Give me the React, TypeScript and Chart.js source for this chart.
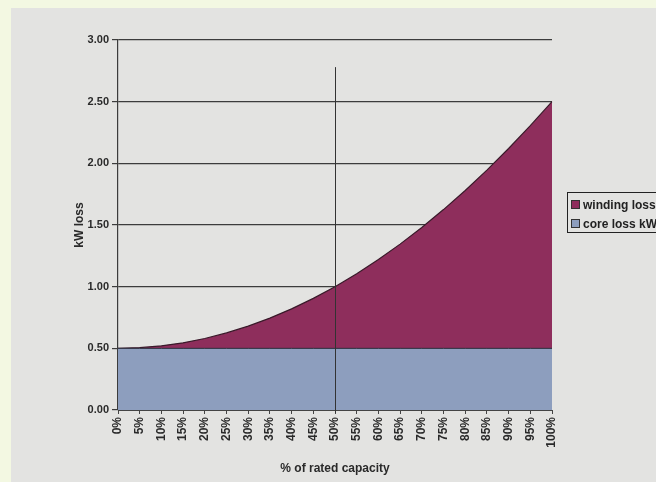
import React, { useEffect, useRef } from "react";
import { Chart, registerables } from "chart.js";

Chart.register(...registerables);

const categories = ["0%", "5%", "10%", "15%", "20%", "25%", "30%", "35%", "40%", "45%", "50%", "55%", "60%", "65%", "70%", "75%", "80%", "85%", "90%", "95%", "100%"];
const coreLoss = [0.5, 0.5, 0.5, 0.5, 0.5, 0.5, 0.5, 0.5, 0.5, 0.5, 0.5, 0.5, 0.5, 0.5, 0.5, 0.5, 0.5, 0.5, 0.5, 0.5, 0.5];
const windingLoss = [0, 0.005, 0.02, 0.045, 0.08, 0.125, 0.18, 0.245, 0.32, 0.405, 0.5, 0.605, 0.72, 0.845, 0.98, 1.125, 1.28, 1.445, 1.62, 1.805, 2.0];
const yTicks = [0, 0.5, 1, 1.5, 2, 2.5, 3];
const markerIndex = 10;
const markerTop = 2.78;

const WINDING_COLOR = "#8e2e5c";
const CORE_COLOR = "#8d9ebe";
const FONT = "'Liberation Sans', Arial, sans-serif";

const markerLine = {
  id: "markerLine",
  afterDatasetsDraw(chart: any) {
    const { ctx, scales } = chart;
    const x = scales.x.getPixelForValue(markerIndex);
    const y0 = scales.y.getPixelForValue(markerTop);
    const y1 = scales.y.getPixelForValue(0);
    ctx.save();
    ctx.strokeStyle = "#333";
    ctx.lineWidth = 1;
    ctx.beginPath();
    ctx.moveTo(Math.round(x) + 0.5, y0);
    ctx.lineTo(Math.round(x) + 0.5, y1 + 3);
    ctx.stroke();
    ctx.restore();
  },
};

export default function App() {
  const ref = useRef<HTMLCanvasElement | null>(null);
  useEffect(() => {
    if (!ref.current) return;
    const chart = new Chart(ref.current, {
      type: "line",
      data: {
        labels: categories,
        datasets: [
          {
            label: "core loss kW",
            data: coreLoss,
            backgroundColor: CORE_COLOR,
            borderColor: "#2c2c3c",
            borderWidth: 1,
            pointRadius: 0,
            fill: "origin",
            tension: 0,
          },
          {
            label: "winding loss",
            data: windingLoss,
            backgroundColor: WINDING_COLOR,
            borderColor: "#3a1a2a",
            borderWidth: 1.2,
            pointRadius: 0,
            fill: "-1",
            tension: 0,
          },
        ],
      },
      options: {
        responsive: false,
        animation: false,
        layout: { padding: { left: 68, right: 104, top: 40, bottom: 6 } },
        plugins: { legend: { display: false }, tooltip: { enabled: false } },
        scales: {
          x: {
            offset: false,
            afterFit: (s: any) => { s.height = 66; },
            grid: { display: true, drawOnChartArea: false, drawTicks: true, tickLength: 4, color: "#444" },
            border: { display: true, color: "#444", width: 1 },
            ticks: {
              minRotation: 90,
              maxRotation: 90,
              autoSkip: false,
              padding: 3,
              color: "#2a2a2a",
              font: { family: FONT, size: 12, weight: "bold" },
            },
            title: {
              display: true,
              text: "% of rated capacity",
              color: "#2a2a2a",
              font: { family: FONT, size: 12, weight: "bold" },
              padding: { top: 2, bottom: 0 },
            },
          },
          y: {
            stacked: true,
            min: 0,
            max: 3,
            afterFit: (s: any) => { s.width = 50; },
            afterBuildTicks: (s: any) => { s.ticks = yTicks.map((v) => ({ value: v })); },
            grid: { color: "#3c3c3c", lineWidth: 1.2, drawTicks: true, tickLength: 6 },
            border: { display: true, color: "#3c3c3c", width: 1.2 },
            ticks: {
              padding: 3,
              color: "#2a2a2a",
              font: { family: FONT, size: 11, weight: "bold" },
              callback: (v: any) => Number(v).toFixed(2),
            },
            title: {
              display: true,
              text: "kW loss",
              color: "#2a2a2a",
              font: { family: FONT, size: 12, weight: "bold" },
              padding: { top: 4, bottom: 2 },
            },
          },
        },
      },
      plugins: [markerLine],
    } as any);
    return () => chart.destroy();
  }, []);

  const legendItem = (color: string, text: string) => (
    <div style={{ display: "flex", alignItems: "center", height: 19, whiteSpace: "nowrap" }}>
      <span style={{ display: "inline-block", width: 7, height: 7, background: color, border: "1px solid #333", marginRight: 3 }} />
      <span style={{ font: `bold 12px ${FONT}`, color: "#222" }}>{text}</span>
    </div>
  );

  return (
    <div style={{ position: "fixed", left: 0, top: 0, width: 656, height: 482, overflow: "hidden", background: "#f3f8e2" }}>
      <div style={{ position: "absolute", left: 11, top: 8, right: 0, bottom: 0, background: "#e3e3e1" }} />
      <canvas ref={ref} width={656} height={482} style={{ position: "absolute", left: 0, top: 0 }} />
      <div style={{ position: "absolute", left: 567, top: 192, width: 120, height: 41, border: "1.5px solid #222", padding: "2px 0 0 3px", boxSizing: "border-box" }}>
        {legendItem(WINDING_COLOR, "winding loss")}
        {legendItem(CORE_COLOR, "core loss kW")}
      </div>
    </div>
  );
}
